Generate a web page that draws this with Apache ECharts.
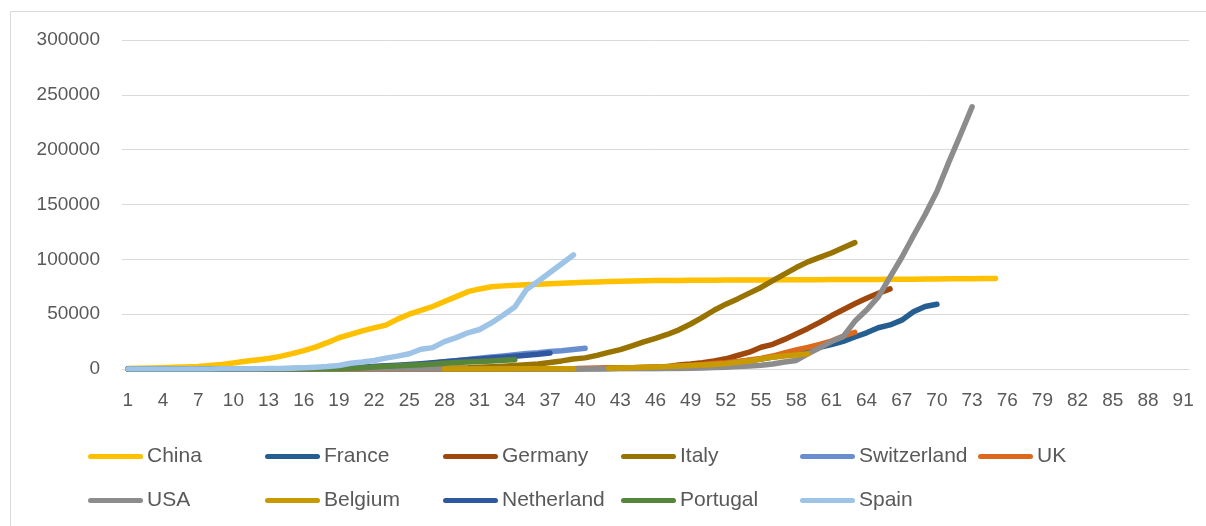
<!DOCTYPE html>
<html>
<head>
<meta charset="utf-8">
<script src="https://cdn.jsdelivr.net/npm/echarts@6/dist/echarts.min.js"></script>
<style>
html,body{margin:0;padding:0;background:#fff;}
#chart{width:1206px;height:526px;}
</style>
</head>
<body>
<div id="chart"></div>
<script>
var days = ['1','2','3','4','5','6','7','8','9','10','11','12','13','14','15','16','17','18','19','20','21','22','23','24','25','26','27','28','29','30','31','32','33','34','35','36','37','38','39','40','41','42','43','44','45','46','47','48','49','50','51','52','53','54','55','56','57','58','59','60','61','62','63','64','65','66','67','68','69','70','71','72','73','74','75','76','77','78','79','80','81','82','83','84','85','86','87','88','89','90','91'];

var yTicks = [0, 50000, 100000, 150000, 200000, 250000, 300000];

var china = [500,650,900,1200,1500,1900,2300,3100,4100,5500,7000,8300,9600,11500,14000,16800,20000,24000,28500,31500,34800,37500,40000,45500,50000,53500,57000,61500,66000,70500,73000,75000,75800,76300,76800,77300,77800,78200,78600,79000,79400,79700,80000,80200,80400,80600,80700,80800,80900,80950,81000,81050,81100,81150,81200,81250,81300,81350,81400,81450,81500,81550,81600,81650,81700,81750,81800,81900,82000,82100,82200,82300,82400,82500,82600];

var france = [2,3,3,3,4,5,5,5,6,6,6,6,6,6,6,11,11,11,11,11,11,11,12,12,12,12,12,12,12,12,12,12,14,18,38,57,100,130,191,204,285,377,653,949,1126,1209,1784,2281,2284,3661,4469,4499,6633,7652,9043,10871,12612,14282,16018,19856,22304,25233,29155,32964,37575,40174,44550,52128,56989,59105];

var germany = [0,0,1,4,4,5,8,10,12,12,12,12,13,13,14,14,16,16,16,16,16,16,16,16,16,16,16,16,16,16,17,27,46,48,79,130,160,200,260,480,670,800,1040,1180,1460,1900,2100,3700,4600,5800,7300,9300,12300,15300,19800,22500,27000,32000,37000,42500,48500,54000,59500,64500,69000,73000];

var italy = [2,2,2,2,2,2,2,3,3,3,3,3,3,3,3,3,3,3,3,3,3,20,62,155,229,322,453,655,888,1128,1694,2036,2502,3089,3858,4636,5883,7375,9172,10149,12462,15113,17660,21157,24747,27980,31506,35713,41035,47021,53578,59138,63927,69176,74386,80589,86498,92472,97689,101739,105792,110574,115242];

var switzerland = [0,0,1,1,8,8,18,27,42,56,90,114,214,268,337,374,491,652,652,1139,1359,2200,2200,2700,3028,4075,5294,6575,7474,8795,9877,10897,11811,12928,14076,14829,15922,16605,17768,18827];

var uk = [2,2,2,2,2,2,2,2,2,3,8,8,9,9,9,9,9,9,9,9,9,9,9,9,9,13,13,15,20,23,36,40,51,86,116,164,207,274,322,384,459,590,802,1144,1391,1551,1960,2642,3277,4014,5067,5745,6726,8164,9640,11812,14745,17312,19780,22453,25481,29865,33500];

var usa = [0,1,1,2,2,5,5,5,5,5,7,8,8,11,11,11,11,11,11,11,12,12,13,13,13,13,13,13,13,13,15,15,15,15,51,51,57,58,60,68,74,98,118,149,217,262,402,518,583,959,1281,1663,2179,2726,3499,4632,6421,7783,13747,19273,25000,29500,43500,53740,65778,83836,101657,121465,140909,161831,188172,213372,239000];

var belgium = [null,null,null,null,null,null,null,null,null,null,null,null,null,null,null,null,null,null,null,null,null,null,null,null,null,null,null,2,8,13,23,50,109,169,200,239,267,314,314,null,null,700,1000,1250,1500,1800,2200,2700,3300,3700,4200,4900,6200,7300,9100,10800,11900,12800,14000];

var netherland = [0,0,1,2,7,10,18,24,38,82,128,188,265,321,382,503,614,804,959,1135,1700,2300,2900,3500,4100,4800,5700,6700,7600,8400,9200,10000,10800,11600,12500,13500,14500];

var portugal = [0,0,0,0,0,2,2,4,5,8,13,20,30,41,59,78,112,169,250,600,1200,1900,2400,2900,3400,3900,4500,5300,5900,6400,6900,7400,8000,8500];

var spain = [0,0,0,0,0,0,0,84,120,165,228,282,401,525,674,1231,1695,2277,3146,5232,6391,7798,9942,11748,13910,17963,19500,25000,28600,33000,36000,42000,49000,56500,72500,80000,88000,96000,104000];

var seriesNames = ['China','France','Germany','Italy','Switzerland','UK','USA','Belgium','Netherland','Portugal','Spain'];
var seriesData = [china, france, germany, italy, switzerland, uk, usa, belgium, netherland, portugal, spain];
var seriesColors = ['#FFC000','#255E91','#9E480E','#997300','#698ED0','#DD6A1C','#8C8C8C','#C89A00','#3058A0','#56863A','#9DC3E6'];

var legendLeft = [88, 265, 443, 621, 800, 978];
var legendTop = [446, 490];

var chart = echarts.init(document.getElementById('chart'), null, {renderer: 'canvas'});

var series = seriesNames.map(function (n, i) {
  return {
    name: n,
    type: 'line',
    data: seriesData[i],
    symbol: 'none',
    showSymbol: false,
    connectNulls: false,
    color: seriesColors[i],
    lineStyle: {width: 5.5, color: seriesColors[i], cap: 'round', join: 'round'},
    emphasis: {disabled: true}
  };
});

var legends = seriesNames.map(function (n, i) {
  return {
    data: [n],
    left: legendLeft[i % 6],
    top: legendTop[Math.floor(i / 6)],
    padding: 0,
    itemWidth: 55,
    itemHeight: 5,
    itemGap: 0,
    icon: 'path://M5,0 H105 A5,5 0 0 1 105,10 H5 A5,5 0 0 1 5,0 Z',
    selectedMode: false,
    textStyle: {color: '#595959', fontSize: 21, fontFamily: 'Liberation Sans', padding: [0, 0, 0, -1]}
  };
});

chart.setOption({
  animation: false,
  backgroundColor: '#fff',
  graphic: [{
    type: 'rect',
    shape: {x: 10.5, y: 11.5, width: 1300, height: 600},
    style: {fill: 'none', stroke: '#D9D9D9', lineWidth: 1},
    silent: true,
    z: -10
  }],
  legend: legends,
  grid: {left: 122, right: 17, top: 40, bottom: 157, containLabel: false},
  xAxis: {
    type: 'category',
    data: days,
    boundaryGap: true,
    axisLine: {show: true, lineStyle: {color: '#D9D9D9', width: 1}},
    axisTick: {show: false},
    axisLabel: {interval: 2, color: '#595959', fontSize: 19, fontFamily: 'Liberation Sans', margin: 22},
    splitLine: {show: false}
  },
  yAxis: {
    type: 'value',
    min: yTicks[0],
    max: yTicks[yTicks.length - 1],
    interval: yTicks[1] - yTicks[0],
    axisLine: {show: false},
    axisTick: {show: false},
    axisLabel: {color: '#595959', fontSize: 19, fontFamily: 'Liberation Sans', margin: 22,
      formatter: function (v) { return String(v); }},
    splitLine: {show: true, lineStyle: {color: '#D9D9D9', width: 1}}
  },
  series: series
});
</script>
</body>
</html>
